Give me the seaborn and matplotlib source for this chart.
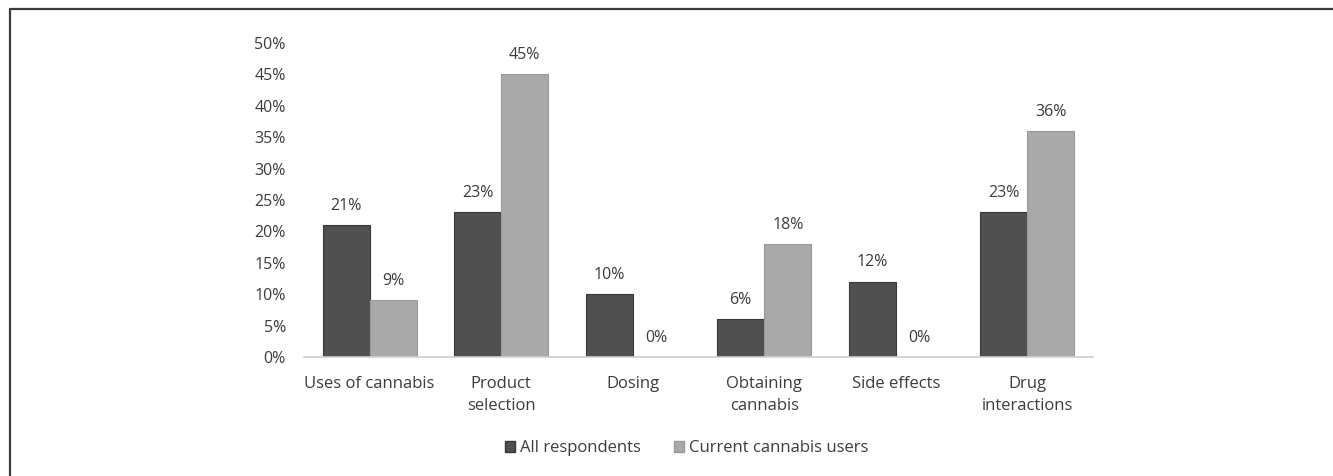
import matplotlib
matplotlib.use("Agg")
import matplotlib.pyplot as plt
from matplotlib.lines import Line2D
from matplotlib.patches import Patch
import seaborn as sns
import pandas as pd

categories = ["Uses of cannabis", "Product\nselection", "Dosing",
              "Obtaining\ncannabis", "Side effects", "Drug\ninteractions"]
series_names = ["All respondents", "Current cannabis users"]
all_respondents = [21, 23, 10, 6, 12, 23]
current_users = [9, 45, 0, 18, 0, 36]
y_ticks = [0, 5, 10, 15, 20, 25, 30, 35, 40, 45, 50]

rows = []
for cat, a, c in zip(categories, all_respondents, current_users):
    rows.append({"category": cat, "series": series_names[0], "value": a})
    rows.append({"category": cat, "series": series_names[1], "value": c})
df = pd.DataFrame(rows)

sns.set_theme(style="white")
plt.rcParams["font.family"] = ["Open Sans", "DejaVu Sans"]
text_color = "#3c3c3c"
colors = ["#505050", "#a9a9a9"]
edges = ["#383838", "#9a9a9a"]

fig = plt.figure(figsize=(13.33, 4.76), dpi=100)
ax = fig.add_axes([0.228, 0.25, 0.592, 0.66])

sns.barplot(data=df, x="category", y="value", hue="series",
            order=categories, hue_order=series_names,
            palette=colors, width=0.715, gap=0, saturation=1,
            legend=False, ax=ax)

for container, ec in zip(ax.containers, edges):
    for bar in container:
        bar.set_edgecolor(ec)
        bar.set_linewidth(0.8)
    ax.bar_label(container, labels=[f"{v:.0f}%" for v in container.datavalues],
                 padding=8, fontsize=11.5, color=text_color)

ax.set_ylim(0, 50)
ax.set_xlim(-0.5, len(categories) - 0.5)
ax.set_yticks(y_ticks)
ax.set_yticklabels([f"{t}%" for t in y_ticks])
ax.set_xlabel("")
ax.set_ylabel("")
ax.tick_params(axis="y", length=0, labelsize=11.5, colors=text_color, pad=13)
ax.tick_params(axis="x", length=0, labelsize=12, colors=text_color, pad=14)
for lbl in ax.get_xticklabels():
    lbl.set_linespacing(1.5)
for side in ["top", "right", "left"]:
    ax.spines[side].set_visible(False)
ax.spines["bottom"].set_color("#d0d0d0")
ax.spines["bottom"].set_linewidth(1.2)

handles = [Patch(facecolor=colors[0], edgecolor=edges[0]),
           Patch(facecolor=colors[1], edgecolor=edges[1])]
fig.legend(handles, series_names, loc="center", bbox_to_anchor=(0.515, 0.058),
           ncol=2, frameon=False, fontsize=12, handlelength=0.6,
           handleheight=0.6, handletextpad=0.3, columnspacing=2.0,
           labelcolor=text_color)

# outer frame along the left and top edges
fig.add_artist(Line2D([0.0075, 0.0075], [0.0, 0.981], transform=fig.transFigure,
                      color="#3a3a3a", linewidth=1.6))
fig.add_artist(Line2D([0.0075, 1.0], [0.981, 0.981], transform=fig.transFigure,
                      color="#3a3a3a", linewidth=1.6))

fig.savefig("out.png", dpi=100, facecolor="white")
